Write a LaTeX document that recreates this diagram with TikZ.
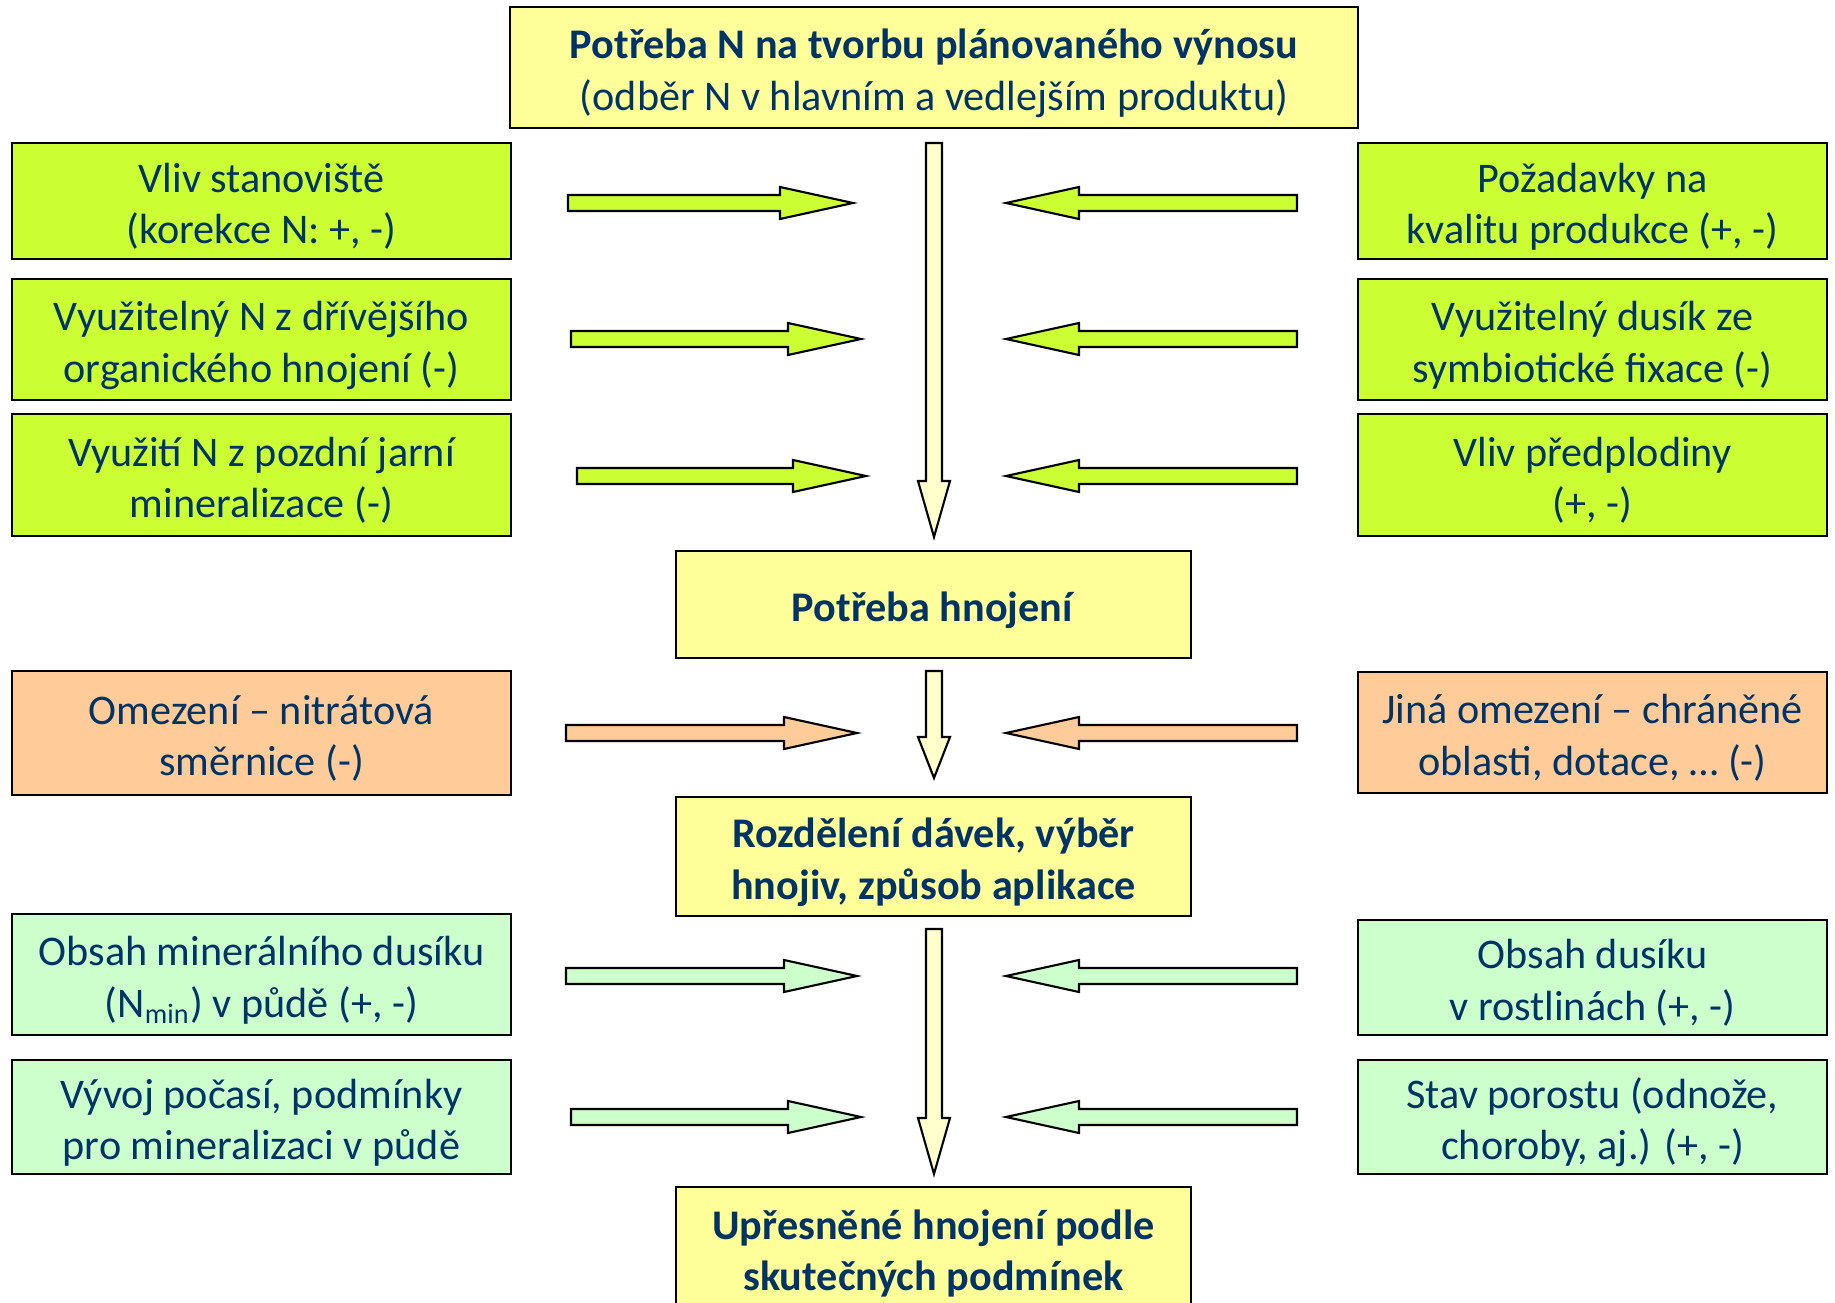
\documentclass[tikz,border=0pt]{standalone}
\usepackage{fontspec}
\setmainfont{Carlito}
\usepackage{xcolor}
\usepackage{tikz}
\usetikzlibrary{positioning, calc}

\definecolor{textblue}{HTML}{003366}
\definecolor{boxyellow}{HTML}{FFFF99}
\definecolor{arryellow}{HTML}{FFFFCC}
\definecolor{limegreen}{HTML}{CCFF33}
\definecolor{peach}{HTML}{FFCC99}
\definecolor{mint}{HTML}{CCFFCC}

% strut for the first line of a box
\newcommand{\linestrut}{\rule{0pt}{13.2pt}}

\begin{document}
\begin{tikzpicture}[x=0.01cm, y=-0.01cm,
		box/.style={draw, rectangle, line width=0.6pt, align=center, inner sep=0pt,
				text=textblue, font=\fontsize{12}{14.6}\selectfont,
				execute at end node={\rule[-3.5pt]{0pt}{0pt}}},
		lbox/.style={box, minimum width=4.99cm},
		rbox/.style={box, minimum width=4.69cm},
		mbox/.style={box, fill=boxyellow, minimum width=5.15cm},
		blockarrow/.style={draw, line width=0.6pt,
				to path={let \p1=(\tikztostart), \p2=(\tikztotarget),
						\p3=($(\p2)!#1!(\p1)$) in
						($(\p1)!0.08cm!90:(\p2)$) -- ($(\p3)!0.08cm!90:(\p2)$)
						-- ($(\p3)!0.16cm!90:(\p2)$) -- (\p2)
						-- ($(\p3)!0.16cm!-90:(\p2)$) -- ($(\p3)!0.08cm!-90:(\p2)$)
						-- ($(\p1)!0.08cm!-90:(\p2)$) -- cycle}},
		blockarrow/.default=0.73cm]
		\useasboundingbox (0,0) rectangle (1835,1303);

		% Nodes
		\node (need) [box, fill=boxyellow, minimum width=8.48cm, minimum height=1.21cm] at (934,67.5)
			{\linestrut\textbf{Potřeba N na tvorbu plánovaného výnosu}\\(odběr N v hlavním a vedlejším produktu)};

		\node (site) [lbox, fill=limegreen, minimum height=1.16cm] at (261.5,201) {\linestrut Vliv stanoviště\\(korekce N: +, -)};
		\node (organic) [lbox, fill=limegreen, minimum height=1.21cm] at (261.5,339.5) {\linestrut Využitelný N z dřívějšího\\organického hnojení (-)};
		\node (mineral) [lbox, fill=limegreen, minimum height=1.22cm] at (261.5,475) {\linestrut Využití N z pozdní jarní\\mineralizace (-)};
		\node (quality) [rbox, fill=limegreen, minimum height=1.16cm] at (1592.5,201) {\linestrut Požadavky na\\kvalitu produkce (+, -)};
		\node (symbio) [rbox, fill=limegreen, minimum height=1.21cm] at (1592.5,339.5) {\linestrut Využitelný dusík ze\\symbiotické fixace (-)};
		\node (precrop) [rbox, fill=limegreen, minimum height=1.22cm] at (1592.5,475) {\linestrut Vliv předplodiny\\(+, -)};

		\node (fert) [mbox, minimum height=1.07cm] at (933.5,604.5) {\linestrut\textbf{Potřeba hnojení}};

		\node (nitrate) [lbox, fill=peach, minimum height=1.24cm] at (261.5,733) {\linestrut Omezení – nitrátová\\směrnice (-)};
		\node (other) [rbox, fill=peach, minimum height=1.21cm] at (1592.5,732.5) {\linestrut Jiná omezení – chráněné\\oblasti, dotace, … (-)};

		\node (split) [mbox, minimum height=1.19cm] at (933.5,856.5) {\linestrut\textbf{Rozdělení dávek, výběr}\\\textbf{hnojiv, způsob aplikace}};

		\node (nmin) [lbox, fill=mint, minimum height=1.21cm] at (261.5,974.5) {\linestrut Obsah minerálního dusíku\\(N\textsubscript{min}) v půdě (+, -)};
		\node (weather) [lbox, fill=mint, minimum height=1.14cm] at (261.5,1117) {\linestrut Vývoj počasí, podmínky\\pro mineralizaci v půdě};
		\node (plant) [rbox, fill=mint, minimum height=1.15cm] at (1592.5,977.5) {\linestrut Obsah dusíku\\v rostlinách (+, -)};
		\node (stand) [rbox, fill=mint, minimum height=1.14cm] at (1592.5,1117) {\linestrut Stav porostu (odnože,\\choroby, aj.) (+, -)};

		\node (final) [mbox, minimum height=1.22cm] at (933.5,1248) {\linestrut\textbf{Upřesněné hnojení podle}\\\textbf{skutečných podmínek}};

		% Arrow ends
		\coordinate (v1s) at (934,143);  \coordinate (v1t) at (934,537);
		\coordinate (v2s) at (934,671);  \coordinate (v2t) at (934,778);
		\coordinate (v3s) at (934,929);  \coordinate (v3t) at (934,1174);
		\foreach \name/\y/\ls/\lt in {a/203/568/853, b/339/571/861, c/476/577/866,
				d/733/566/857, e/976/566/857, f/1117/571/861} {
				\coordinate (\name ls) at (\ls,\y);  \coordinate (\name lt) at (\lt,\y);
				\coordinate (\name rs) at (1297,\y); \coordinate (\name rt) at (1006,\y);
			}

		% Arrows
		\draw[blockarrow=0.56cm, fill=arryellow] (v1s) to (v1t);
		\draw[blockarrow=0.41cm, fill=arryellow] (v2s) to (v2t);
		\draw[blockarrow=0.56cm, fill=arryellow] (v3s) to (v3t);
		\foreach \name in {a,b,c} {
				\draw[blockarrow, fill=limegreen] (\name ls) to (\name lt);
				\draw[blockarrow, fill=limegreen] (\name rs) to (\name rt);
			}
		\draw[blockarrow, fill=peach] (dls) to (dlt);
		\draw[blockarrow, fill=peach] (drs) to (drt);
		\foreach \name in {e,f} {
				\draw[blockarrow, fill=mint] (\name ls) to (\name lt);
				\draw[blockarrow, fill=mint] (\name rs) to (\name rt);
			}
	\end{tikzpicture}
\end{document}
